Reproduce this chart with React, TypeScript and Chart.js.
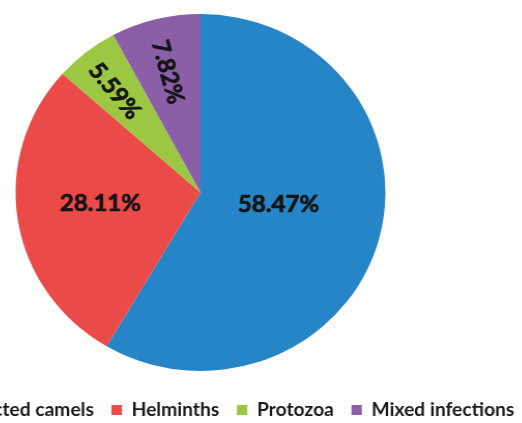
import { useEffect, useRef } from 'react';
import { Chart, registerables } from 'chart.js';

Chart.register(...registerables);

// ---- data ----
const categories = ['Uninfected camels', 'Helminths', 'Protozoa', 'Mixed infections'];
const percentages = [58.47, 28.11, 5.59, 7.82];
const sliceColors = ['#2685C7', '#EA4B48', '#9CC742', '#8B5FA8'];

// ---- layout / style ----
const FONT = 'Lato';
const SX = 1.036; // horizontal stretch of the reference picture
const PIE_RADIUS = 178.5;
const PIE_CY = 192.5;
const LEGEND_TEXT_Y = 410;
const LEGEND_PAD = 17;
const CANVAS_W = 640;
const SHIFT_LEFT = 130.6;

const labelLayout = [
  { frac: 0.427, turn: -6.5, radial: false },
  { frac: 0.545, turn: 2.1, radial: false },
  { frac: 0.734, turn: -1, radial: true },
  { frac: 0.698, turn: -0.7, radial: true },
];

function fitSize(text: string, target: number): number {
  const c = document.createElement('canvas').getContext('2d')!;
  c.font = `bold 100px ${FONT}`;
  return (100 * target) / c.measureText(text).width;
}

function makeChart(canvas: HTMLCanvasElement): Chart {
  const legendSize = fitSize('Mixed infections', 138);
  const labelSize = fitSize('58.47%', 78.5);
  const chartBottom = LEGEND_TEXT_Y - LEGEND_PAD - legendSize / 2;
  const padTop = Math.max(0, 2 * PIE_CY - chartBottom);
  const H = Math.ceil(420 + legendSize / 2);
  const padBottom = H - (420 + legendSize / 2);

  canvas.width = CANVAS_W;
  canvas.height = H;
  canvas.style.width = `${CANVAS_W * SX}px`;
  canvas.style.height = `${H}px`;

  const sliceLabels = {
    id: 'sliceLabels',
    afterDatasetsDraw(chart: any) {
      const meta = chart.getDatasetMeta(0);
      const ctx = chart.ctx as CanvasRenderingContext2D;
      meta.data.forEach((arc: any, i: number) => {
        const p = arc.getProps(['x', 'y', 'startAngle', 'endAngle', 'outerRadius'], true);
        const lay = labelLayout[i];
        const mid = (p.startAngle + p.endAngle) / 2 + (lay.turn * Math.PI) / 180;
        const r = p.outerRadius * lay.frac;
        const px = p.x + Math.cos(mid) * r;
        const py = p.y + Math.sin(mid) * r;
        const text = percentages[i].toFixed(2) + '%';
        ctx.save();
        ctx.translate(px, py);
        if (lay.radial) ctx.rotate(mid + Math.PI);
        ctx.font = `bold ${labelSize}px ${FONT}`;
        ctx.textAlign = 'center';
        ctx.textBaseline = 'middle';
        ctx.fillStyle = '#141414';
        ctx.strokeStyle = '#141414';
        ctx.lineWidth = 0.7;
        ctx.lineJoin = 'round';
        ctx.strokeText(text, 0, 0);
        ctx.fillText(text, 0, 0);
        ctx.restore();
      });
    },
  };

  return new Chart(canvas, {
    type: 'pie',
    data: {
      labels: categories,
      datasets: [
        {
          data: percentages,
          backgroundColor: sliceColors,
          borderWidth: 0,
          radius: PIE_RADIUS,
        } as any,
      ],
    },
    options: {
      responsive: false,
      animation: false,
      devicePixelRatio: 1,
      layout: { padding: { top: padTop, bottom: padBottom, left: 0, right: 0 } },
      plugins: {
        legend: {
          position: 'bottom',
          align: 'end',
          labels: {
            boxWidth: 10,
            boxHeight: 10,
            padding: LEGEND_PAD,
            color: '#1a1a1a',
            font: { family: FONT, weight: 'bold', size: legendSize },
          },
        },
        tooltip: { enabled: false },
      },
    },
    plugins: [sliceLabels],
  });
}

export default function App() {
  const ref = useRef<HTMLCanvasElement | null>(null);

  useEffect(() => {
    const chart = makeChart(ref.current!);
    return () => chart.destroy();
  }, []);

  return (
    <div style={{ position: 'fixed', left: -SHIFT_LEFT, top: 0 }}>
      <canvas ref={ref} />
    </div>
  );
}
